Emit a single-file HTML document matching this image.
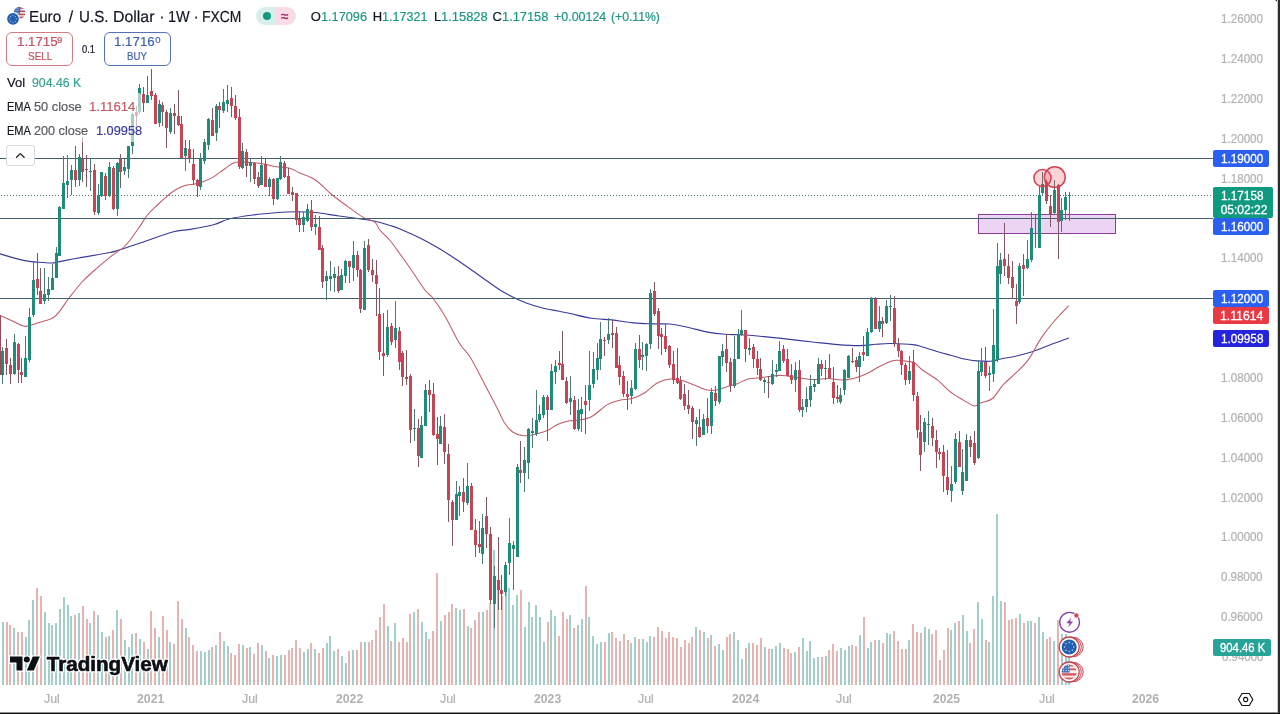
<!DOCTYPE html>
<html lang="en">
<head>
<meta charset="utf-8">
<title>Euro / U.S. Dollar · 1W · FXCM — TradingView</title>
<style>

html,body{margin:0;padding:0;background:#fff;}
body{width:1280px;height:714px;position:relative;overflow:hidden;font-family:"Liberation Sans", sans-serif;}
.chart{position:absolute;left:0;top:0;}
.t{position:absolute;white-space:nowrap;line-height:1;transform-origin:0 50%;transform:translateY(-50%);-webkit-text-stroke:0.2px currentColor;}
.box{position:absolute;box-sizing:border-box;}
.w{-webkit-text-stroke:0.3px currentColor;}
.b{-webkit-text-stroke:0;}
.g{text-rendering:geometricPrecision;}
.lg{position:absolute;background:rgba(255,255,255,0.6);border-radius:2px;}
.frame-r{position:absolute;right:0;top:0;width:2px;height:714px;background:#2b2b2b;}
.frame-r2{position:absolute;right:2px;top:0;width:1px;height:714px;background:#cfcfcf;}
.frame-b{position:absolute;left:0;bottom:0;width:1280px;height:1px;background:#161616;}
.frame-b2{position:absolute;left:0;bottom:1px;width:1280px;height:1px;background:#8a8a8a;}

</style>
</head>
<body>
<svg class="chart" width="1280" height="714" viewBox="0 0 1280 714" shape-rendering="crispEdges">
<g><rect x="2" y="622" width="2" height="63" fill="#a2cfca"/><rect x="6" y="622" width="2" height="63" fill="#e8b4b1"/><rect x="9" y="625" width="2" height="60" fill="#e8b4b1"/><rect x="13" y="628" width="2" height="57" fill="#a2cfca"/><rect x="17" y="632" width="2" height="53" fill="#e8b4b1"/><rect x="21" y="632" width="2" height="53" fill="#e8b4b1"/><rect x="25" y="637" width="2" height="48" fill="#a2cfca"/><rect x="28" y="620" width="2" height="65" fill="#a2cfca"/><rect x="32" y="600" width="2" height="85" fill="#a2cfca"/><rect x="36" y="588" width="2" height="97" fill="#e8b4b1"/><rect x="40" y="596" width="2" height="89" fill="#e8b4b1"/><rect x="44" y="612" width="2" height="73" fill="#a2cfca"/><rect x="48" y="623" width="2" height="62" fill="#a2cfca"/><rect x="51" y="625" width="2" height="60" fill="#a2cfca"/><rect x="55" y="623" width="2" height="62" fill="#a2cfca"/><rect x="59" y="609" width="2" height="76" fill="#a2cfca"/><rect x="63" y="597" width="2" height="88" fill="#a2cfca"/><rect x="67" y="605" width="2" height="80" fill="#a2cfca"/><rect x="70" y="616" width="2" height="69" fill="#a2cfca"/><rect x="74" y="615" width="2" height="70" fill="#e8b4b1"/><rect x="78" y="613" width="2" height="72" fill="#a2cfca"/><rect x="82" y="606" width="2" height="79" fill="#e8b4b1"/><rect x="86" y="619" width="2" height="66" fill="#e8b4b1"/><rect x="89" y="623" width="2" height="62" fill="#a2cfca"/><rect x="93" y="611" width="2" height="74" fill="#e8b4b1"/><rect x="97" y="615" width="2" height="70" fill="#a2cfca"/><rect x="101" y="632" width="2" height="53" fill="#a2cfca"/><rect x="105" y="637" width="2" height="48" fill="#e8b4b1"/><rect x="108" y="636" width="2" height="49" fill="#a2cfca"/><rect x="112" y="630" width="2" height="55" fill="#e8b4b1"/><rect x="116" y="610" width="2" height="75" fill="#a2cfca"/><rect x="120" y="619" width="2" height="66" fill="#e8b4b1"/><rect x="124" y="640" width="2" height="45" fill="#a2cfca"/><rect x="128" y="647" width="2" height="38" fill="#a2cfca"/><rect x="131" y="634" width="2" height="51" fill="#a2cfca"/><rect x="135" y="633" width="2" height="52" fill="#e8b4b1"/><rect x="139" y="639" width="2" height="46" fill="#a2cfca"/><rect x="143" y="642" width="2" height="43" fill="#e8b4b1"/><rect x="147" y="649" width="2" height="36" fill="#a2cfca"/><rect x="150" y="611" width="2" height="74" fill="#e8b4b1"/><rect x="154" y="628" width="2" height="57" fill="#e8b4b1"/><rect x="158" y="637" width="2" height="48" fill="#a2cfca"/><rect x="162" y="616" width="2" height="69" fill="#e8b4b1"/><rect x="166" y="630" width="2" height="55" fill="#e8b4b1"/><rect x="169" y="642" width="2" height="43" fill="#a2cfca"/><rect x="173" y="644" width="2" height="41" fill="#e8b4b1"/><rect x="177" y="601" width="2" height="84" fill="#e8b4b1"/><rect x="181" y="619" width="2" height="66" fill="#e8b4b1"/><rect x="185" y="628" width="2" height="57" fill="#a2cfca"/><rect x="188" y="637" width="2" height="48" fill="#e8b4b1"/><rect x="192" y="645" width="2" height="40" fill="#e8b4b1"/><rect x="196" y="651" width="2" height="34" fill="#e8b4b1"/><rect x="200" y="651" width="2" height="34" fill="#a2cfca"/><rect x="204" y="652" width="2" height="33" fill="#a2cfca"/><rect x="208" y="650" width="2" height="35" fill="#a2cfca"/><rect x="211" y="647" width="2" height="38" fill="#e8b4b1"/><rect x="215" y="645" width="2" height="40" fill="#a2cfca"/><rect x="219" y="632" width="2" height="53" fill="#e8b4b1"/><rect x="223" y="641" width="2" height="44" fill="#a2cfca"/><rect x="227" y="646" width="2" height="39" fill="#a2cfca"/><rect x="230" y="653" width="2" height="32" fill="#e8b4b1"/><rect x="234" y="655" width="2" height="30" fill="#e8b4b1"/><rect x="238" y="644" width="2" height="41" fill="#e8b4b1"/><rect x="242" y="645" width="2" height="40" fill="#a2cfca"/><rect x="246" y="648" width="2" height="37" fill="#e8b4b1"/><rect x="249" y="647" width="2" height="38" fill="#a2cfca"/><rect x="253" y="654" width="2" height="31" fill="#e8b4b1"/><rect x="257" y="643" width="2" height="42" fill="#e8b4b1"/><rect x="261" y="645" width="2" height="40" fill="#a2cfca"/><rect x="265" y="651" width="2" height="34" fill="#e8b4b1"/><rect x="268" y="658" width="2" height="27" fill="#a2cfca"/><rect x="272" y="655" width="2" height="30" fill="#e8b4b1"/><rect x="276" y="656" width="2" height="29" fill="#a2cfca"/><rect x="280" y="655" width="2" height="30" fill="#a2cfca"/><rect x="284" y="655" width="2" height="30" fill="#e8b4b1"/><rect x="288" y="650" width="2" height="35" fill="#e8b4b1"/><rect x="291" y="648" width="2" height="37" fill="#e8b4b1"/><rect x="295" y="640" width="2" height="45" fill="#e8b4b1"/><rect x="299" y="648" width="2" height="37" fill="#e8b4b1"/><rect x="303" y="652" width="2" height="33" fill="#a2cfca"/><rect x="307" y="649" width="2" height="36" fill="#a2cfca"/><rect x="310" y="643" width="2" height="42" fill="#e8b4b1"/><rect x="314" y="649" width="2" height="36" fill="#a2cfca"/><rect x="318" y="653" width="2" height="32" fill="#e8b4b1"/><rect x="322" y="648" width="2" height="37" fill="#e8b4b1"/><rect x="326" y="643" width="2" height="42" fill="#a2cfca"/><rect x="329" y="636" width="2" height="49" fill="#a2cfca"/><rect x="333" y="651" width="2" height="34" fill="#a2cfca"/><rect x="337" y="649" width="2" height="36" fill="#e8b4b1"/><rect x="341" y="656" width="2" height="29" fill="#a2cfca"/><rect x="345" y="663" width="2" height="22" fill="#a2cfca"/><rect x="348" y="651" width="2" height="34" fill="#e8b4b1"/><rect x="352" y="650" width="2" height="35" fill="#a2cfca"/><rect x="356" y="650" width="2" height="35" fill="#e8b4b1"/><rect x="360" y="642" width="2" height="43" fill="#e8b4b1"/><rect x="364" y="642" width="2" height="43" fill="#a2cfca"/><rect x="368" y="642" width="2" height="43" fill="#e8b4b1"/><rect x="371" y="640" width="2" height="45" fill="#e8b4b1"/><rect x="375" y="630" width="2" height="55" fill="#e8b4b1"/><rect x="379" y="617" width="2" height="68" fill="#e8b4b1"/><rect x="383" y="604" width="2" height="81" fill="#e8b4b1"/><rect x="387" y="626" width="2" height="59" fill="#a2cfca"/><rect x="390" y="641" width="2" height="44" fill="#e8b4b1"/><rect x="394" y="623" width="2" height="62" fill="#a2cfca"/><rect x="398" y="642" width="2" height="43" fill="#e8b4b1"/><rect x="402" y="638" width="2" height="47" fill="#e8b4b1"/><rect x="406" y="642" width="2" height="43" fill="#e8b4b1"/><rect x="409" y="614" width="2" height="71" fill="#e8b4b1"/><rect x="413" y="612" width="2" height="73" fill="#a2cfca"/><rect x="417" y="609" width="2" height="76" fill="#e8b4b1"/><rect x="421" y="622" width="2" height="63" fill="#a2cfca"/><rect x="425" y="632" width="2" height="53" fill="#a2cfca"/><rect x="428" y="639" width="2" height="46" fill="#e8b4b1"/><rect x="432" y="631" width="2" height="54" fill="#e8b4b1"/><rect x="436" y="573" width="2" height="112" fill="#e8b4b1"/><rect x="440" y="621" width="2" height="64" fill="#a2cfca"/><rect x="444" y="615" width="2" height="70" fill="#e8b4b1"/><rect x="448" y="612" width="2" height="73" fill="#e8b4b1"/><rect x="451" y="604" width="2" height="81" fill="#e8b4b1"/><rect x="455" y="608" width="2" height="77" fill="#a2cfca"/><rect x="459" y="610" width="2" height="75" fill="#a2cfca"/><rect x="463" y="609" width="2" height="76" fill="#e8b4b1"/><rect x="467" y="626" width="2" height="59" fill="#a2cfca"/><rect x="470" y="628" width="2" height="57" fill="#e8b4b1"/><rect x="474" y="620" width="2" height="65" fill="#e8b4b1"/><rect x="478" y="612" width="2" height="73" fill="#e8b4b1"/><rect x="482" y="612" width="2" height="73" fill="#a2cfca"/><rect x="486" y="610" width="2" height="75" fill="#e8b4b1"/><rect x="489" y="603" width="2" height="82" fill="#e8b4b1"/><rect x="493" y="550" width="2" height="135" fill="#a2cfca"/><rect x="497" y="590" width="2" height="95" fill="#e8b4b1"/><rect x="501" y="596" width="2" height="89" fill="#e8b4b1"/><rect x="505" y="592" width="2" height="93" fill="#a2cfca"/><rect x="508" y="588" width="2" height="97" fill="#a2cfca"/><rect x="512" y="605" width="2" height="80" fill="#a2cfca"/><rect x="516" y="595" width="2" height="90" fill="#a2cfca"/><rect x="520" y="590" width="2" height="95" fill="#e8b4b1"/><rect x="524" y="627" width="2" height="58" fill="#a2cfca"/><rect x="528" y="602" width="2" height="83" fill="#a2cfca"/><rect x="531" y="617" width="2" height="68" fill="#a2cfca"/><rect x="535" y="605" width="2" height="80" fill="#a2cfca"/><rect x="539" y="617" width="2" height="68" fill="#a2cfca"/><rect x="543" y="642" width="2" height="43" fill="#a2cfca"/><rect x="547" y="622" width="2" height="63" fill="#e8b4b1"/><rect x="550" y="610" width="2" height="75" fill="#a2cfca"/><rect x="554" y="616" width="2" height="69" fill="#a2cfca"/><rect x="558" y="636" width="2" height="49" fill="#e8b4b1"/><rect x="562" y="612" width="2" height="73" fill="#e8b4b1"/><rect x="566" y="619" width="2" height="66" fill="#e8b4b1"/><rect x="569" y="615" width="2" height="70" fill="#a2cfca"/><rect x="573" y="628" width="2" height="57" fill="#e8b4b1"/><rect x="577" y="625" width="2" height="60" fill="#a2cfca"/><rect x="581" y="619" width="2" height="66" fill="#a2cfca"/><rect x="585" y="586" width="2" height="99" fill="#e8b4b1"/><rect x="588" y="617" width="2" height="68" fill="#a2cfca"/><rect x="592" y="636" width="2" height="49" fill="#a2cfca"/><rect x="596" y="644" width="2" height="41" fill="#a2cfca"/><rect x="600" y="642" width="2" height="43" fill="#a2cfca"/><rect x="604" y="642" width="2" height="43" fill="#e8b4b1"/><rect x="608" y="633" width="2" height="52" fill="#a2cfca"/><rect x="611" y="632" width="2" height="53" fill="#e8b4b1"/><rect x="615" y="638" width="2" height="47" fill="#e8b4b1"/><rect x="619" y="641" width="2" height="44" fill="#e8b4b1"/><rect x="623" y="634" width="2" height="51" fill="#e8b4b1"/><rect x="627" y="640" width="2" height="45" fill="#e8b4b1"/><rect x="630" y="643" width="2" height="42" fill="#a2cfca"/><rect x="634" y="637" width="2" height="48" fill="#a2cfca"/><rect x="638" y="639" width="2" height="46" fill="#e8b4b1"/><rect x="642" y="639" width="2" height="46" fill="#a2cfca"/><rect x="646" y="642" width="2" height="43" fill="#a2cfca"/><rect x="649" y="636" width="2" height="49" fill="#a2cfca"/><rect x="653" y="637" width="2" height="48" fill="#e8b4b1"/><rect x="657" y="627" width="2" height="58" fill="#e8b4b1"/><rect x="661" y="631" width="2" height="54" fill="#e8b4b1"/><rect x="665" y="638" width="2" height="47" fill="#e8b4b1"/><rect x="668" y="632" width="2" height="53" fill="#e8b4b1"/><rect x="672" y="637" width="2" height="48" fill="#e8b4b1"/><rect x="676" y="638" width="2" height="47" fill="#e8b4b1"/><rect x="680" y="647" width="2" height="38" fill="#e8b4b1"/><rect x="684" y="640" width="2" height="45" fill="#e8b4b1"/><rect x="688" y="643" width="2" height="42" fill="#e8b4b1"/><rect x="691" y="637" width="2" height="48" fill="#e8b4b1"/><rect x="695" y="627" width="2" height="58" fill="#a2cfca"/><rect x="699" y="630" width="2" height="55" fill="#e8b4b1"/><rect x="703" y="632" width="2" height="53" fill="#a2cfca"/><rect x="707" y="638" width="2" height="47" fill="#e8b4b1"/><rect x="710" y="635" width="2" height="50" fill="#a2cfca"/><rect x="714" y="646" width="2" height="39" fill="#e8b4b1"/><rect x="718" y="644" width="2" height="41" fill="#a2cfca"/><rect x="722" y="650" width="2" height="35" fill="#a2cfca"/><rect x="726" y="637" width="2" height="48" fill="#e8b4b1"/><rect x="729" y="634" width="2" height="51" fill="#e8b4b1"/><rect x="733" y="632" width="2" height="53" fill="#a2cfca"/><rect x="737" y="640" width="2" height="45" fill="#a2cfca"/><rect x="741" y="659" width="2" height="26" fill="#a2cfca"/><rect x="745" y="648" width="2" height="37" fill="#e8b4b1"/><rect x="748" y="643" width="2" height="42" fill="#a2cfca"/><rect x="752" y="643" width="2" height="42" fill="#e8b4b1"/><rect x="756" y="645" width="2" height="40" fill="#e8b4b1"/><rect x="760" y="638" width="2" height="47" fill="#e8b4b1"/><rect x="764" y="647" width="2" height="38" fill="#a2cfca"/><rect x="768" y="649" width="2" height="36" fill="#e8b4b1"/><rect x="771" y="649" width="2" height="36" fill="#a2cfca"/><rect x="775" y="646" width="2" height="39" fill="#a2cfca"/><rect x="779" y="643" width="2" height="42" fill="#a2cfca"/><rect x="783" y="648" width="2" height="37" fill="#e8b4b1"/><rect x="787" y="649" width="2" height="36" fill="#e8b4b1"/><rect x="790" y="653" width="2" height="32" fill="#e8b4b1"/><rect x="794" y="652" width="2" height="33" fill="#a2cfca"/><rect x="798" y="647" width="2" height="38" fill="#e8b4b1"/><rect x="802" y="638" width="2" height="47" fill="#a2cfca"/><rect x="806" y="651" width="2" height="34" fill="#a2cfca"/><rect x="809" y="641" width="2" height="44" fill="#a2cfca"/><rect x="813" y="658" width="2" height="27" fill="#a2cfca"/><rect x="817" y="657" width="2" height="28" fill="#a2cfca"/><rect x="821" y="657" width="2" height="28" fill="#e8b4b1"/><rect x="825" y="656" width="2" height="29" fill="#a2cfca"/><rect x="828" y="650" width="2" height="35" fill="#e8b4b1"/><rect x="832" y="644" width="2" height="41" fill="#e8b4b1"/><rect x="836" y="651" width="2" height="34" fill="#e8b4b1"/><rect x="840" y="648" width="2" height="37" fill="#a2cfca"/><rect x="844" y="650" width="2" height="35" fill="#a2cfca"/><rect x="848" y="646" width="2" height="39" fill="#a2cfca"/><rect x="851" y="645" width="2" height="40" fill="#e8b4b1"/><rect x="855" y="646" width="2" height="39" fill="#e8b4b1"/><rect x="859" y="635" width="2" height="50" fill="#a2cfca"/><rect x="863" y="617" width="2" height="68" fill="#e8b4b1"/><rect x="867" y="648" width="2" height="37" fill="#a2cfca"/><rect x="870" y="642" width="2" height="43" fill="#a2cfca"/><rect x="874" y="640" width="2" height="45" fill="#e8b4b1"/><rect x="878" y="640" width="2" height="45" fill="#a2cfca"/><rect x="882" y="643" width="2" height="42" fill="#e8b4b1"/><rect x="886" y="633" width="2" height="52" fill="#a2cfca"/><rect x="889" y="634" width="2" height="51" fill="#a2cfca"/><rect x="893" y="631" width="2" height="54" fill="#e8b4b1"/><rect x="897" y="641" width="2" height="44" fill="#e8b4b1"/><rect x="901" y="649" width="2" height="36" fill="#e8b4b1"/><rect x="905" y="649" width="2" height="36" fill="#e8b4b1"/><rect x="908" y="640" width="2" height="45" fill="#a2cfca"/><rect x="912" y="624" width="2" height="61" fill="#e8b4b1"/><rect x="916" y="632" width="2" height="53" fill="#e8b4b1"/><rect x="920" y="633" width="2" height="52" fill="#e8b4b1"/><rect x="924" y="627" width="2" height="58" fill="#a2cfca"/><rect x="928" y="629" width="2" height="56" fill="#a2cfca"/><rect x="931" y="634" width="2" height="51" fill="#e8b4b1"/><rect x="935" y="630" width="2" height="55" fill="#e8b4b1"/><rect x="939" y="660" width="2" height="25" fill="#e8b4b1"/><rect x="943" y="650" width="2" height="35" fill="#e8b4b1"/><rect x="947" y="628" width="2" height="57" fill="#e8b4b1"/><rect x="950" y="630" width="2" height="55" fill="#a2cfca"/><rect x="954" y="623" width="2" height="62" fill="#a2cfca"/><rect x="958" y="621" width="2" height="64" fill="#e8b4b1"/><rect x="962" y="615" width="2" height="70" fill="#a2cfca"/><rect x="966" y="631" width="2" height="54" fill="#a2cfca"/><rect x="969" y="643" width="2" height="42" fill="#e8b4b1"/><rect x="973" y="629" width="2" height="56" fill="#e8b4b1"/><rect x="977" y="602" width="2" height="83" fill="#a2cfca"/><rect x="981" y="619" width="2" height="66" fill="#a2cfca"/><rect x="985" y="640" width="2" height="45" fill="#e8b4b1"/><rect x="988" y="642" width="2" height="43" fill="#a2cfca"/><rect x="992" y="596" width="2" height="89" fill="#a2cfca"/><rect x="996" y="514" width="2" height="171" fill="#a2cfca"/><rect x="1000" y="601" width="2" height="84" fill="#a2cfca"/><rect x="1004" y="602" width="2" height="83" fill="#e8b4b1"/><rect x="1008" y="620" width="2" height="65" fill="#e8b4b1"/><rect x="1011" y="619" width="2" height="66" fill="#e8b4b1"/><rect x="1015" y="618" width="2" height="67" fill="#e8b4b1"/><rect x="1019" y="614" width="2" height="71" fill="#a2cfca"/><rect x="1023" y="623" width="2" height="62" fill="#e8b4b1"/><rect x="1027" y="621" width="2" height="64" fill="#a2cfca"/><rect x="1030" y="621" width="2" height="64" fill="#a2cfca"/><rect x="1034" y="623" width="2" height="62" fill="#e8b4b1"/><rect x="1038" y="617" width="2" height="68" fill="#a2cfca"/><rect x="1042" y="632" width="2" height="53" fill="#a2cfca"/><rect x="1046" y="639" width="2" height="46" fill="#e8b4b1"/><rect x="1049" y="637" width="2" height="48" fill="#e8b4b1"/><rect x="1053" y="641" width="2" height="44" fill="#a2cfca"/><rect x="1057" y="620" width="2" height="65" fill="#e8b4b1"/><rect x="1061" y="634" width="2" height="51" fill="#a2cfca"/><rect x="1065" y="634" width="2" height="51" fill="#a2cfca"/><rect x="1068" y="648" width="2" height="37" fill="#a2cfca"/></g>
<path d="M-2.0,253.5 C-1.7,253.6 -4.2,252.7 0.0,253.8 C4.2,255.0 17.0,259.0 23.5,260.4 C30.0,261.8 34.3,261.9 39.0,262.3 C43.7,262.7 48.4,263.1 51.8,263.0 C55.2,262.9 55.2,262.4 59.6,261.6 C64.0,260.8 70.0,259.5 78.4,258.0 C86.8,256.5 103.0,253.8 109.8,252.5 C116.6,251.2 113.8,251.6 119.0,250.0 C124.2,248.4 132.1,245.8 141.0,242.8 C149.9,239.8 164.3,234.2 172.5,232.0 C180.7,229.8 183.2,230.6 190.0,229.4 C196.8,228.2 207.0,226.4 213.5,224.7 C220.0,223.0 222.5,220.6 229.0,219.0 C235.5,217.4 244.6,216.1 252.7,215.0 C260.8,213.9 270.5,213.1 277.8,212.5 C285.1,211.9 290.4,211.7 296.7,211.7 C303.0,211.7 308.4,211.8 315.5,212.5 C322.6,213.2 331.2,214.9 339.0,216.0 C346.8,217.1 356.5,218.3 362.5,219.2 C368.5,220.1 370.4,220.2 375.0,221.3 C379.6,222.4 385.8,224.2 390.0,225.5 C394.2,226.8 395.0,226.9 400.0,229.0 C405.0,231.1 413.3,234.7 420.0,238.0 C426.7,241.3 433.3,245.0 440.0,249.0 C446.7,253.0 453.3,257.5 460.0,262.0 C466.7,266.5 473.3,271.3 480.0,276.0 C486.7,280.7 494.3,286.4 500.0,290.0 C505.7,293.6 509.8,295.6 514.3,297.8 C518.8,300.0 522.2,301.6 526.9,303.3 C531.6,305.0 537.3,306.7 542.5,308.0 C547.7,309.3 553.4,310.1 558.0,311.0 C562.6,311.9 564.4,312.3 570.0,313.5 C575.6,314.7 584.4,317.2 591.4,318.3 C598.4,319.4 605.3,319.2 611.8,319.9 C618.3,320.6 624.6,321.9 630.6,322.5 C636.6,323.1 641.3,323.6 647.8,323.8 C654.3,324.1 663.5,323.5 669.8,324.0 C676.1,324.5 679.0,325.4 685.5,326.8 C692.0,328.2 702.5,331.1 709.0,332.4 C715.5,333.6 719.5,333.9 724.7,334.3 C729.9,334.7 734.5,334.5 740.4,334.8 C746.3,335.1 753.2,335.6 760.0,336.2 C766.8,336.8 772.6,337.4 781.4,338.4 C790.2,339.4 803.3,341.0 812.7,342.0 C822.1,343.0 829.9,344.0 837.8,344.6 C845.6,345.2 853.5,345.7 859.8,345.6 C866.1,345.6 870.3,344.7 875.5,344.3 C880.7,343.9 884.8,343.4 891.0,343.5 C897.2,343.6 907.8,344.0 913.0,344.6 C918.2,345.2 918.3,345.8 922.5,347.0 C926.7,348.2 933.4,350.5 938.0,351.8 C942.6,353.1 945.4,353.8 950.0,355.0 C954.6,356.2 961.2,358.3 965.7,359.3 C970.2,360.3 972.5,360.6 976.7,360.9 C980.9,361.2 986.6,361.5 990.8,361.2 C995.0,360.9 997.3,359.7 1001.8,358.8 C1006.2,357.9 1012.3,356.9 1017.5,355.7 C1022.7,354.5 1027.5,353.3 1033.0,351.5 C1038.5,349.7 1044.4,346.9 1050.4,344.7 C1056.4,342.4 1065.8,339.1 1068.9,338.0" fill="none" stroke="#3a3a9c" stroke-width="1.15" shape-rendering="auto" stroke-linejoin="round"/>
<path d="M-2.0,315.0 C-1.7,315.1 -2.7,314.4 0.0,315.5 C2.7,316.6 10.1,320.1 14.0,321.8 C17.9,323.6 21.2,325.3 23.5,326.0 C25.8,326.7 25.4,326.6 28.0,326.0 C30.6,325.4 34.5,324.1 39.0,322.5 C43.5,320.9 50.0,320.4 55.0,316.3 C60.0,312.2 64.6,303.6 69.0,298.0 C73.4,292.4 77.7,286.8 81.6,282.5 C85.5,278.2 87.8,276.2 92.5,272.0 C97.2,267.8 104.3,261.7 109.8,257.3 C115.3,252.9 120.8,250.2 125.5,245.5 C130.2,240.8 134.3,234.1 138.0,229.0 C141.7,223.9 144.3,218.9 147.5,215.0 C150.7,211.1 153.8,208.5 156.9,205.5 C160.0,202.5 163.2,199.5 166.3,196.9 C169.4,194.3 172.6,191.7 175.7,189.8 C178.8,187.9 182.1,186.4 185.0,185.5 C187.9,184.6 190.1,184.9 193.0,184.3 C195.9,183.7 199.1,183.2 202.5,182.0 C205.9,180.8 209.8,179.1 213.5,176.9 C217.2,174.7 220.8,171.4 224.5,169.0 C228.2,166.6 230.8,163.4 235.5,162.3 C240.2,161.2 247.7,162.4 252.7,162.7 C257.7,163.0 261.4,163.6 265.3,164.3 C269.2,165.0 272.1,166.0 276.3,166.7 C280.5,167.4 286.5,167.4 290.4,168.5 C294.3,169.6 295.6,171.1 299.8,173.0 C304.0,174.9 310.3,176.5 315.5,180.0 C320.7,183.5 325.8,189.7 331.0,194.0 C336.2,198.3 341.6,202.1 346.9,205.9 C352.1,209.7 357.8,214.2 362.5,216.9 C367.2,219.7 372.1,220.2 375.0,222.4 C377.9,224.6 377.3,227.0 379.8,230.0 C382.3,233.0 386.6,236.5 390.0,240.5 C393.4,244.5 396.7,249.4 400.0,254.0 C403.3,258.6 405.9,262.0 410.0,268.0 C414.1,274.0 421.1,285.0 424.9,290.0 C428.7,295.0 429.3,293.4 432.7,297.8 C436.1,302.2 440.9,309.1 445.3,316.7 C449.8,324.3 455.2,336.5 459.4,343.3 C463.6,350.1 466.5,351.2 470.4,357.5 C474.3,363.8 479.1,373.6 483.0,381.0 C486.9,388.4 491.4,397.0 494.0,402.0 C496.6,407.0 496.8,407.4 498.6,411.0 C500.4,414.6 502.5,420.0 504.9,423.5 C507.2,427.0 509.6,429.9 512.7,432.0 C515.8,434.1 519.8,435.5 523.7,435.8 C527.6,436.1 532.4,434.9 536.3,434.0 C540.2,433.1 543.7,432.2 547.3,430.6 C550.9,429.0 554.2,425.9 558.0,424.3 C561.8,422.7 567.0,421.4 570.0,420.8 C573.0,420.2 572.1,421.3 575.7,420.6 C579.3,419.9 586.2,419.3 591.4,416.7 C596.6,414.1 602.3,407.6 607.0,404.9 C611.7,402.1 615.4,401.2 619.6,400.2 C623.8,399.1 627.8,399.9 632.0,398.6 C636.2,397.4 640.5,395.3 644.7,392.7 C648.9,390.1 653.1,385.3 657.3,383.0 C661.5,380.7 665.6,379.4 669.8,379.0 C674.0,378.6 678.2,379.6 682.4,380.6 C686.6,381.7 690.7,383.7 694.9,385.3 C699.1,386.9 703.8,389.2 707.5,390.0 C711.2,390.8 713.8,390.5 716.9,390.0 C720.0,389.5 722.9,387.9 726.3,386.9 C729.7,385.8 733.6,385.0 737.3,383.7 C740.9,382.4 744.4,380.0 748.2,379.0 C752.0,378.0 757.1,378.0 760.0,377.7 C762.9,377.4 762.1,377.4 765.7,377.0 C769.3,376.6 776.2,375.3 781.4,375.4 C786.6,375.5 791.8,376.9 797.0,377.6 C802.2,378.3 807.5,379.5 812.7,379.6 C817.9,379.8 823.7,378.4 828.4,378.5 C833.1,378.6 836.8,380.0 841.0,380.0 C845.2,380.0 849.3,379.5 853.5,378.5 C857.7,377.5 861.8,375.9 866.0,374.0 C870.2,372.1 874.4,369.1 878.6,367.0 C882.8,364.9 887.9,362.4 891.0,361.3 C894.1,360.2 894.9,360.3 897.5,360.3 C900.1,360.3 904.0,360.9 906.9,361.3 C909.8,361.8 912.1,361.6 914.7,363.0 C917.3,364.4 918.6,367.1 922.5,370.0 C926.4,372.9 933.4,376.8 938.0,380.4 C942.6,384.0 945.9,388.4 950.0,391.6 C954.1,394.8 958.5,397.2 962.5,399.6 C966.5,402.0 971.1,405.4 974.3,405.9 C977.4,406.4 978.4,403.9 981.4,402.7 C984.4,401.5 988.8,401.5 992.4,398.5 C996.0,395.5 999.4,389.0 1003.3,384.7 C1007.2,380.4 1011.7,377.1 1015.9,372.9 C1020.1,368.7 1024.2,365.4 1028.4,359.6 C1032.6,353.9 1036.8,344.7 1041.0,338.4 C1045.2,332.1 1048.8,327.5 1053.5,322.0 C1058.2,316.5 1066.3,308.2 1068.9,305.5" fill="none" stroke="#bd5c68" stroke-width="1.05" shape-rendering="auto" stroke-linejoin="round"/>
<rect x="978.5" y="214.5" width="137" height="19" fill="#ebd4f4" stroke="#8b3f98" stroke-width="1"/>
<rect x="979" y="218" width="136" height="1" fill="#5b5690"/>
<rect x="0" y="158" width="1213" height="1" fill="#43606f"/>
<rect x="0" y="218" width="1213" height="1" fill="#43606f"/>
<rect x="0" y="298" width="1213" height="1" fill="#43606f"/>
<line x1="0.5" y1="195.5" x2="1213" y2="195.5" stroke="#3f6f6a" stroke-width="1" stroke-dasharray="1 2"/>
<g><rect x="-1" y="314" width="1" height="62" fill="#85555f"/><rect x="-2" y="315" width="3" height="60" fill="#9c4a58"/><rect x="2" y="347" width="1" height="37" fill="#4a7c73"/><rect x="1" y="351" width="3" height="24" fill="#1f8b79"/><rect x="6" y="339" width="1" height="36" fill="#85555f"/><rect x="5" y="348" width="3" height="16" fill="#c54455"/><rect x="10" y="358" width="1" height="26" fill="#85555f"/><rect x="9" y="365" width="3" height="9" fill="#c54455"/><rect x="14" y="334" width="1" height="41" fill="#4a7c73"/><rect x="13" y="342" width="3" height="32" fill="#1f8b79"/><rect x="18" y="343" width="1" height="40" fill="#85555f"/><rect x="17" y="344" width="3" height="26" fill="#c54455"/><rect x="21" y="358" width="1" height="25" fill="#85555f"/><rect x="20" y="372" width="3" height="3" fill="#c54455"/><rect x="25" y="336" width="1" height="41" fill="#4a7c73"/><rect x="24" y="358" width="3" height="19" fill="#1f8b79"/><rect x="29" y="308" width="1" height="54" fill="#4a7c73"/><rect x="28" y="317" width="3" height="43" fill="#1f8b79"/><rect x="33" y="262" width="1" height="55" fill="#4a7c73"/><rect x="32" y="280" width="3" height="35" fill="#1f8b79"/><rect x="37" y="253" width="1" height="42" fill="#85555f"/><rect x="36" y="279" width="3" height="9" fill="#c54455"/><rect x="40" y="268" width="1" height="36" fill="#85555f"/><rect x="39" y="291" width="3" height="13" fill="#c54455"/><rect x="44" y="268" width="1" height="36" fill="#4a7c73"/><rect x="43" y="294" width="3" height="7" fill="#1f8b79"/><rect x="48" y="277" width="1" height="24" fill="#4a7c73"/><rect x="47" y="289" width="3" height="6" fill="#1f8b79"/><rect x="52" y="264" width="1" height="26" fill="#4a7c73"/><rect x="51" y="278" width="3" height="12" fill="#1f8b79"/><rect x="56" y="247" width="1" height="31" fill="#4a7c73"/><rect x="55" y="253" width="3" height="25" fill="#1f8b79"/><rect x="59" y="206" width="1" height="50" fill="#4a7c73"/><rect x="58" y="207" width="3" height="49" fill="#1f8b79"/><rect x="63" y="156" width="1" height="53" fill="#4a7c73"/><rect x="62" y="183" width="3" height="26" fill="#1f8b79"/><rect x="67" y="155" width="1" height="43" fill="#4a7c73"/><rect x="66" y="181" width="3" height="4" fill="#1f8b79"/><rect x="71" y="165" width="1" height="30" fill="#4a7c73"/><rect x="70" y="170" width="3" height="10" fill="#1f8b79"/><rect x="75" y="146" width="1" height="41" fill="#85555f"/><rect x="74" y="170" width="3" height="10" fill="#c54455"/><rect x="79" y="154" width="1" height="32" fill="#4a7c73"/><rect x="78" y="157" width="3" height="23" fill="#1f8b79"/><rect x="82" y="137" width="1" height="45" fill="#85555f"/><rect x="81" y="159" width="3" height="13" fill="#c54455"/><rect x="86" y="155" width="1" height="32" fill="#85555f"/><rect x="85" y="169" width="3" height="1" fill="#c54455"/><rect x="90" y="158" width="1" height="33" fill="#4a7c73"/><rect x="89" y="171" width="3" height="1" fill="#1f8b79"/><rect x="94" y="164" width="1" height="51" fill="#85555f"/><rect x="93" y="170" width="3" height="42" fill="#c54455"/><rect x="98" y="184" width="1" height="31" fill="#4a7c73"/><rect x="97" y="195" width="3" height="18" fill="#1f8b79"/><rect x="101" y="172" width="1" height="25" fill="#4a7c73"/><rect x="100" y="172" width="3" height="24" fill="#1f8b79"/><rect x="105" y="173" width="1" height="27" fill="#85555f"/><rect x="104" y="176" width="3" height="20" fill="#c54455"/><rect x="109" y="162" width="1" height="35" fill="#4a7c73"/><rect x="108" y="167" width="3" height="29" fill="#1f8b79"/><rect x="113" y="166" width="1" height="44" fill="#85555f"/><rect x="112" y="168" width="3" height="41" fill="#c54455"/><rect x="117" y="162" width="1" height="54" fill="#4a7c73"/><rect x="116" y="163" width="3" height="46" fill="#1f8b79"/><rect x="120" y="154" width="1" height="34" fill="#85555f"/><rect x="119" y="159" width="3" height="13" fill="#c54455"/><rect x="124" y="159" width="1" height="16" fill="#4a7c73"/><rect x="123" y="167" width="3" height="4" fill="#1f8b79"/><rect x="128" y="146" width="1" height="32" fill="#4a7c73"/><rect x="127" y="146" width="3" height="23" fill="#1f8b79"/><rect x="132" y="113" width="1" height="41" fill="#4a7c73"/><rect x="131" y="114" width="3" height="32" fill="#1f8b79"/><rect x="136" y="106" width="1" height="20" fill="#85555f"/><rect x="135" y="112" width="3" height="4" fill="#c54455"/><rect x="139" y="84" width="1" height="30" fill="#4a7c73"/><rect x="138" y="88" width="3" height="24" fill="#1f8b79"/><rect x="143" y="87" width="1" height="25" fill="#85555f"/><rect x="142" y="94" width="3" height="9" fill="#c54455"/><rect x="147" y="76" width="1" height="27" fill="#4a7c73"/><rect x="146" y="95" width="3" height="8" fill="#1f8b79"/><rect x="151" y="69" width="1" height="31" fill="#85555f"/><rect x="150" y="91" width="3" height="5" fill="#c54455"/><rect x="155" y="93" width="1" height="31" fill="#85555f"/><rect x="154" y="95" width="3" height="29" fill="#c54455"/><rect x="159" y="100" width="1" height="27" fill="#4a7c73"/><rect x="158" y="104" width="3" height="19" fill="#1f8b79"/><rect x="162" y="102" width="1" height="24" fill="#85555f"/><rect x="161" y="105" width="3" height="7" fill="#c54455"/><rect x="166" y="110" width="1" height="38" fill="#85555f"/><rect x="165" y="112" width="3" height="16" fill="#c54455"/><rect x="170" y="108" width="1" height="26" fill="#4a7c73"/><rect x="169" y="113" width="3" height="19" fill="#1f8b79"/><rect x="174" y="104" width="1" height="30" fill="#85555f"/><rect x="173" y="113" width="3" height="3" fill="#c54455"/><rect x="178" y="90" width="1" height="36" fill="#85555f"/><rect x="177" y="116" width="3" height="9" fill="#c54455"/><rect x="181" y="116" width="1" height="42" fill="#85555f"/><rect x="180" y="124" width="3" height="34" fill="#c54455"/><rect x="185" y="140" width="1" height="31" fill="#4a7c73"/><rect x="184" y="148" width="3" height="8" fill="#1f8b79"/><rect x="189" y="140" width="1" height="23" fill="#85555f"/><rect x="188" y="149" width="3" height="9" fill="#c54455"/><rect x="193" y="149" width="1" height="36" fill="#85555f"/><rect x="192" y="164" width="3" height="16" fill="#c54455"/><rect x="197" y="179" width="1" height="18" fill="#85555f"/><rect x="196" y="180" width="3" height="6" fill="#c54455"/><rect x="200" y="153" width="1" height="37" fill="#4a7c73"/><rect x="199" y="159" width="3" height="28" fill="#1f8b79"/><rect x="204" y="139" width="1" height="25" fill="#4a7c73"/><rect x="203" y="142" width="3" height="19" fill="#1f8b79"/><rect x="208" y="118" width="1" height="32" fill="#4a7c73"/><rect x="207" y="119" width="3" height="26" fill="#1f8b79"/><rect x="212" y="108" width="1" height="28" fill="#85555f"/><rect x="211" y="120" width="3" height="16" fill="#c54455"/><rect x="216" y="104" width="1" height="37" fill="#4a7c73"/><rect x="215" y="106" width="3" height="27" fill="#1f8b79"/><rect x="219" y="102" width="1" height="26" fill="#85555f"/><rect x="218" y="106" width="3" height="4" fill="#c54455"/><rect x="223" y="89" width="1" height="24" fill="#4a7c73"/><rect x="222" y="102" width="3" height="9" fill="#1f8b79"/><rect x="227" y="85" width="1" height="27" fill="#4a7c73"/><rect x="226" y="100" width="3" height="4" fill="#1f8b79"/><rect x="231" y="87" width="1" height="30" fill="#85555f"/><rect x="230" y="98" width="3" height="8" fill="#c54455"/><rect x="235" y="95" width="1" height="25" fill="#85555f"/><rect x="234" y="106" width="3" height="12" fill="#c54455"/><rect x="239" y="109" width="1" height="60" fill="#85555f"/><rect x="238" y="117" width="3" height="50" fill="#c54455"/><rect x="242" y="143" width="1" height="26" fill="#4a7c73"/><rect x="241" y="151" width="3" height="17" fill="#1f8b79"/><rect x="246" y="149" width="1" height="28" fill="#85555f"/><rect x="245" y="152" width="3" height="14" fill="#c54455"/><rect x="250" y="158" width="1" height="24" fill="#4a7c73"/><rect x="249" y="162" width="3" height="4" fill="#1f8b79"/><rect x="254" y="162" width="1" height="22" fill="#85555f"/><rect x="253" y="163" width="3" height="16" fill="#c54455"/><rect x="258" y="172" width="1" height="16" fill="#85555f"/><rect x="257" y="177" width="3" height="9" fill="#c54455"/><rect x="261" y="156" width="1" height="29" fill="#4a7c73"/><rect x="260" y="165" width="3" height="20" fill="#1f8b79"/><rect x="265" y="159" width="1" height="28" fill="#85555f"/><rect x="264" y="164" width="3" height="23" fill="#c54455"/><rect x="269" y="177" width="1" height="19" fill="#4a7c73"/><rect x="268" y="179" width="3" height="8" fill="#1f8b79"/><rect x="273" y="178" width="1" height="27" fill="#85555f"/><rect x="272" y="179" width="3" height="20" fill="#c54455"/><rect x="277" y="178" width="1" height="22" fill="#4a7c73"/><rect x="276" y="178" width="3" height="21" fill="#1f8b79"/><rect x="280" y="156" width="1" height="24" fill="#4a7c73"/><rect x="279" y="162" width="3" height="17" fill="#1f8b79"/><rect x="284" y="161" width="1" height="17" fill="#85555f"/><rect x="283" y="163" width="3" height="14" fill="#c54455"/><rect x="288" y="168" width="1" height="26" fill="#85555f"/><rect x="287" y="176" width="3" height="18" fill="#c54455"/><rect x="292" y="187" width="1" height="14" fill="#85555f"/><rect x="291" y="192" width="3" height="3" fill="#c54455"/><rect x="296" y="193" width="1" height="32" fill="#85555f"/><rect x="295" y="193" width="3" height="27" fill="#c54455"/><rect x="299" y="211" width="1" height="21" fill="#85555f"/><rect x="298" y="219" width="3" height="6" fill="#c54455"/><rect x="303" y="212" width="1" height="20" fill="#4a7c73"/><rect x="302" y="217" width="3" height="8" fill="#1f8b79"/><rect x="307" y="204" width="1" height="18" fill="#4a7c73"/><rect x="306" y="209" width="3" height="12" fill="#1f8b79"/><rect x="311" y="200" width="1" height="31" fill="#85555f"/><rect x="310" y="210" width="3" height="17" fill="#c54455"/><rect x="315" y="215" width="1" height="20" fill="#4a7c73"/><rect x="314" y="224" width="3" height="3" fill="#1f8b79"/><rect x="319" y="216" width="1" height="34" fill="#85555f"/><rect x="318" y="227" width="3" height="23" fill="#c54455"/><rect x="322" y="245" width="1" height="43" fill="#85555f"/><rect x="321" y="248" width="3" height="34" fill="#c54455"/><rect x="326" y="271" width="1" height="29" fill="#4a7c73"/><rect x="325" y="276" width="3" height="5" fill="#1f8b79"/><rect x="330" y="261" width="1" height="30" fill="#4a7c73"/><rect x="329" y="276" width="3" height="3" fill="#1f8b79"/><rect x="334" y="267" width="1" height="25" fill="#4a7c73"/><rect x="333" y="274" width="3" height="4" fill="#1f8b79"/><rect x="338" y="266" width="1" height="27" fill="#85555f"/><rect x="337" y="276" width="3" height="15" fill="#c54455"/><rect x="341" y="269" width="1" height="21" fill="#4a7c73"/><rect x="340" y="275" width="3" height="15" fill="#1f8b79"/><rect x="345" y="260" width="1" height="23" fill="#4a7c73"/><rect x="344" y="261" width="3" height="15" fill="#1f8b79"/><rect x="349" y="261" width="1" height="22" fill="#85555f"/><rect x="348" y="261" width="3" height="6" fill="#c54455"/><rect x="353" y="241" width="1" height="40" fill="#4a7c73"/><rect x="352" y="255" width="3" height="13" fill="#1f8b79"/><rect x="357" y="251" width="1" height="26" fill="#85555f"/><rect x="356" y="255" width="3" height="15" fill="#c54455"/><rect x="360" y="269" width="1" height="44" fill="#85555f"/><rect x="359" y="270" width="3" height="39" fill="#c54455"/><rect x="364" y="241" width="1" height="69" fill="#4a7c73"/><rect x="363" y="248" width="3" height="62" fill="#1f8b79"/><rect x="368" y="239" width="1" height="33" fill="#85555f"/><rect x="367" y="245" width="3" height="25" fill="#c54455"/><rect x="372" y="259" width="1" height="23" fill="#85555f"/><rect x="371" y="270" width="3" height="5" fill="#c54455"/><rect x="376" y="260" width="1" height="56" fill="#85555f"/><rect x="375" y="275" width="3" height="9" fill="#c54455"/><rect x="379" y="288" width="1" height="72" fill="#85555f"/><rect x="378" y="314" width="3" height="38" fill="#c54455"/><rect x="383" y="313" width="1" height="63" fill="#85555f"/><rect x="382" y="353" width="3" height="3" fill="#c54455"/><rect x="387" y="310" width="1" height="47" fill="#4a7c73"/><rect x="386" y="327" width="3" height="28" fill="#1f8b79"/><rect x="391" y="323" width="1" height="22" fill="#85555f"/><rect x="390" y="326" width="3" height="16" fill="#c54455"/><rect x="395" y="301" width="1" height="47" fill="#4a7c73"/><rect x="394" y="328" width="3" height="12" fill="#1f8b79"/><rect x="399" y="327" width="1" height="43" fill="#85555f"/><rect x="398" y="331" width="3" height="31" fill="#c54455"/><rect x="402" y="351" width="1" height="35" fill="#85555f"/><rect x="401" y="353" width="3" height="24" fill="#c54455"/><rect x="406" y="350" width="1" height="35" fill="#85555f"/><rect x="405" y="377" width="3" height="2" fill="#c54455"/><rect x="410" y="374" width="1" height="69" fill="#85555f"/><rect x="409" y="376" width="3" height="54" fill="#c54455"/><rect x="414" y="409" width="1" height="32" fill="#4a7c73"/><rect x="413" y="428" width="3" height="1" fill="#1f8b79"/><rect x="418" y="419" width="1" height="48" fill="#85555f"/><rect x="417" y="428" width="3" height="28" fill="#c54455"/><rect x="421" y="416" width="1" height="42" fill="#4a7c73"/><rect x="420" y="425" width="3" height="33" fill="#1f8b79"/><rect x="425" y="384" width="1" height="42" fill="#4a7c73"/><rect x="424" y="390" width="3" height="36" fill="#1f8b79"/><rect x="429" y="380" width="1" height="32" fill="#85555f"/><rect x="428" y="390" width="3" height="5" fill="#c54455"/><rect x="433" y="383" width="1" height="53" fill="#85555f"/><rect x="432" y="394" width="3" height="41" fill="#c54455"/><rect x="437" y="417" width="1" height="48" fill="#85555f"/><rect x="436" y="434" width="3" height="5" fill="#c54455"/><rect x="440" y="416" width="1" height="28" fill="#4a7c73"/><rect x="439" y="426" width="3" height="18" fill="#1f8b79"/><rect x="444" y="414" width="1" height="50" fill="#85555f"/><rect x="443" y="427" width="3" height="25" fill="#c54455"/><rect x="448" y="444" width="1" height="78" fill="#85555f"/><rect x="447" y="454" width="3" height="46" fill="#c54455"/><rect x="452" y="500" width="1" height="46" fill="#85555f"/><rect x="451" y="502" width="3" height="18" fill="#c54455"/><rect x="456" y="481" width="1" height="39" fill="#4a7c73"/><rect x="455" y="494" width="3" height="26" fill="#1f8b79"/><rect x="459" y="486" width="1" height="30" fill="#4a7c73"/><rect x="458" y="492" width="3" height="4" fill="#1f8b79"/><rect x="463" y="478" width="1" height="34" fill="#85555f"/><rect x="462" y="492" width="3" height="10" fill="#c54455"/><rect x="467" y="463" width="1" height="42" fill="#4a7c73"/><rect x="466" y="486" width="3" height="17" fill="#1f8b79"/><rect x="471" y="483" width="1" height="47" fill="#85555f"/><rect x="470" y="486" width="3" height="44" fill="#c54455"/><rect x="475" y="519" width="1" height="38" fill="#85555f"/><rect x="474" y="530" width="3" height="15" fill="#c54455"/><rect x="479" y="521" width="1" height="32" fill="#85555f"/><rect x="478" y="544" width="3" height="3" fill="#c54455"/><rect x="482" y="514" width="1" height="50" fill="#4a7c73"/><rect x="481" y="528" width="3" height="26" fill="#1f8b79"/><rect x="486" y="497" width="1" height="51" fill="#85555f"/><rect x="485" y="516" width="3" height="18" fill="#c54455"/><rect x="490" y="527" width="1" height="77" fill="#85555f"/><rect x="489" y="534" width="3" height="66" fill="#c54455"/><rect x="494" y="566" width="1" height="62" fill="#4a7c73"/><rect x="493" y="576" width="3" height="28" fill="#1f8b79"/><rect x="498" y="537" width="1" height="73" fill="#85555f"/><rect x="497" y="580" width="3" height="10" fill="#c54455"/><rect x="501" y="575" width="1" height="35" fill="#85555f"/><rect x="500" y="590" width="3" height="4" fill="#c54455"/><rect x="505" y="562" width="1" height="34" fill="#4a7c73"/><rect x="504" y="565" width="3" height="27" fill="#1f8b79"/><rect x="509" y="518" width="1" height="57" fill="#4a7c73"/><rect x="508" y="543" width="3" height="20" fill="#1f8b79"/><rect x="513" y="541" width="1" height="49" fill="#4a7c73"/><rect x="512" y="545" width="3" height="4" fill="#1f8b79"/><rect x="517" y="464" width="1" height="93" fill="#4a7c73"/><rect x="516" y="467" width="3" height="90" fill="#1f8b79"/><rect x="520" y="441" width="1" height="42" fill="#85555f"/><rect x="519" y="470" width="3" height="3" fill="#c54455"/><rect x="524" y="447" width="1" height="45" fill="#4a7c73"/><rect x="523" y="460" width="3" height="13" fill="#1f8b79"/><rect x="528" y="428" width="1" height="51" fill="#4a7c73"/><rect x="527" y="429" width="3" height="34" fill="#1f8b79"/><rect x="532" y="418" width="1" height="30" fill="#4a7c73"/><rect x="531" y="431" width="3" height="2" fill="#1f8b79"/><rect x="536" y="390" width="1" height="46" fill="#4a7c73"/><rect x="535" y="420" width="3" height="14" fill="#1f8b79"/><rect x="539" y="405" width="1" height="17" fill="#4a7c73"/><rect x="538" y="414" width="3" height="6" fill="#1f8b79"/><rect x="543" y="395" width="1" height="23" fill="#4a7c73"/><rect x="542" y="397" width="3" height="18" fill="#1f8b79"/><rect x="547" y="395" width="1" height="46" fill="#85555f"/><rect x="546" y="397" width="3" height="13" fill="#c54455"/><rect x="551" y="364" width="1" height="46" fill="#4a7c73"/><rect x="550" y="371" width="3" height="39" fill="#1f8b79"/><rect x="555" y="360" width="1" height="24" fill="#4a7c73"/><rect x="554" y="366" width="3" height="6" fill="#1f8b79"/><rect x="559" y="351" width="1" height="19" fill="#85555f"/><rect x="558" y="363" width="3" height="2" fill="#c54455"/><rect x="562" y="331" width="1" height="49" fill="#85555f"/><rect x="561" y="364" width="3" height="16" fill="#c54455"/><rect x="566" y="377" width="1" height="27" fill="#85555f"/><rect x="565" y="381" width="3" height="22" fill="#c54455"/><rect x="570" y="376" width="1" height="39" fill="#4a7c73"/><rect x="569" y="398" width="3" height="4" fill="#1f8b79"/><rect x="574" y="396" width="1" height="34" fill="#85555f"/><rect x="573" y="400" width="3" height="29" fill="#c54455"/><rect x="578" y="399" width="1" height="32" fill="#4a7c73"/><rect x="577" y="410" width="3" height="19" fill="#1f8b79"/><rect x="581" y="397" width="1" height="35" fill="#4a7c73"/><rect x="580" y="409" width="3" height="5" fill="#1f8b79"/><rect x="585" y="385" width="1" height="49" fill="#85555f"/><rect x="584" y="401" width="3" height="4" fill="#c54455"/><rect x="589" y="351" width="1" height="60" fill="#4a7c73"/><rect x="588" y="385" width="3" height="15" fill="#1f8b79"/><rect x="593" y="352" width="1" height="36" fill="#4a7c73"/><rect x="592" y="369" width="3" height="15" fill="#1f8b79"/><rect x="597" y="343" width="1" height="37" fill="#4a7c73"/><rect x="596" y="358" width="3" height="12" fill="#1f8b79"/><rect x="600" y="322" width="1" height="48" fill="#4a7c73"/><rect x="599" y="339" width="3" height="20" fill="#1f8b79"/><rect x="604" y="337" width="1" height="19" fill="#85555f"/><rect x="603" y="340" width="3" height="1" fill="#c54455"/><rect x="608" y="318" width="1" height="26" fill="#4a7c73"/><rect x="607" y="334" width="3" height="6" fill="#1f8b79"/><rect x="612" y="320" width="1" height="28" fill="#85555f"/><rect x="611" y="333" width="3" height="2" fill="#c54455"/><rect x="616" y="327" width="1" height="41" fill="#85555f"/><rect x="615" y="333" width="3" height="35" fill="#c54455"/><rect x="619" y="356" width="1" height="29" fill="#85555f"/><rect x="618" y="365" width="3" height="12" fill="#c54455"/><rect x="623" y="371" width="1" height="26" fill="#85555f"/><rect x="622" y="376" width="3" height="18" fill="#c54455"/><rect x="627" y="381" width="1" height="29" fill="#85555f"/><rect x="626" y="394" width="3" height="3" fill="#c54455"/><rect x="631" y="380" width="1" height="24" fill="#4a7c73"/><rect x="630" y="388" width="3" height="8" fill="#1f8b79"/><rect x="635" y="343" width="1" height="47" fill="#4a7c73"/><rect x="634" y="349" width="3" height="40" fill="#1f8b79"/><rect x="639" y="335" width="1" height="33" fill="#85555f"/><rect x="638" y="349" width="3" height="11" fill="#c54455"/><rect x="642" y="342" width="1" height="28" fill="#4a7c73"/><rect x="641" y="355" width="3" height="2" fill="#1f8b79"/><rect x="646" y="343" width="1" height="28" fill="#4a7c73"/><rect x="645" y="344" width="3" height="12" fill="#1f8b79"/><rect x="650" y="289" width="1" height="60" fill="#4a7c73"/><rect x="649" y="293" width="3" height="51" fill="#1f8b79"/><rect x="654" y="282" width="1" height="34" fill="#85555f"/><rect x="653" y="291" width="3" height="23" fill="#c54455"/><rect x="658" y="308" width="1" height="41" fill="#85555f"/><rect x="657" y="311" width="3" height="25" fill="#c54455"/><rect x="661" y="328" width="1" height="27" fill="#85555f"/><rect x="660" y="334" width="3" height="3" fill="#c54455"/><rect x="665" y="324" width="1" height="28" fill="#85555f"/><rect x="664" y="336" width="3" height="13" fill="#c54455"/><rect x="669" y="345" width="1" height="23" fill="#85555f"/><rect x="668" y="346" width="3" height="19" fill="#c54455"/><rect x="673" y="351" width="1" height="33" fill="#85555f"/><rect x="672" y="364" width="3" height="16" fill="#c54455"/><rect x="677" y="348" width="1" height="36" fill="#85555f"/><rect x="676" y="378" width="3" height="5" fill="#c54455"/><rect x="680" y="376" width="1" height="24" fill="#85555f"/><rect x="679" y="381" width="3" height="18" fill="#c54455"/><rect x="684" y="384" width="1" height="26" fill="#85555f"/><rect x="683" y="394" width="3" height="12" fill="#c54455"/><rect x="688" y="390" width="1" height="24" fill="#85555f"/><rect x="687" y="405" width="3" height="4" fill="#c54455"/><rect x="692" y="406" width="1" height="33" fill="#85555f"/><rect x="691" y="408" width="3" height="14" fill="#c54455"/><rect x="696" y="417" width="1" height="29" fill="#4a7c73"/><rect x="695" y="420" width="3" height="4" fill="#1f8b79"/><rect x="699" y="409" width="1" height="29" fill="#85555f"/><rect x="698" y="427" width="3" height="10" fill="#c54455"/><rect x="703" y="414" width="1" height="21" fill="#4a7c73"/><rect x="702" y="419" width="3" height="16" fill="#1f8b79"/><rect x="707" y="398" width="1" height="35" fill="#85555f"/><rect x="706" y="418" width="3" height="8" fill="#c54455"/><rect x="711" y="388" width="1" height="46" fill="#4a7c73"/><rect x="710" y="392" width="3" height="34" fill="#1f8b79"/><rect x="715" y="386" width="1" height="20" fill="#85555f"/><rect x="714" y="393" width="3" height="8" fill="#c54455"/><rect x="719" y="356" width="1" height="48" fill="#4a7c73"/><rect x="718" y="356" width="3" height="46" fill="#1f8b79"/><rect x="722" y="344" width="1" height="22" fill="#4a7c73"/><rect x="721" y="351" width="3" height="6" fill="#1f8b79"/><rect x="726" y="334" width="1" height="38" fill="#85555f"/><rect x="725" y="349" width="3" height="14" fill="#c54455"/><rect x="730" y="358" width="1" height="34" fill="#85555f"/><rect x="729" y="362" width="3" height="24" fill="#c54455"/><rect x="734" y="336" width="1" height="52" fill="#4a7c73"/><rect x="733" y="359" width="3" height="27" fill="#1f8b79"/><rect x="738" y="329" width="1" height="30" fill="#4a7c73"/><rect x="737" y="334" width="3" height="25" fill="#1f8b79"/><rect x="741" y="310" width="1" height="26" fill="#4a7c73"/><rect x="740" y="330" width="3" height="5" fill="#1f8b79"/><rect x="745" y="330" width="1" height="32" fill="#85555f"/><rect x="744" y="330" width="3" height="19" fill="#c54455"/><rect x="749" y="338" width="1" height="17" fill="#4a7c73"/><rect x="748" y="348" width="3" height="2" fill="#1f8b79"/><rect x="753" y="344" width="1" height="24" fill="#85555f"/><rect x="752" y="347" width="3" height="12" fill="#c54455"/><rect x="757" y="351" width="1" height="24" fill="#85555f"/><rect x="756" y="359" width="3" height="9" fill="#c54455"/><rect x="760" y="358" width="1" height="23" fill="#85555f"/><rect x="759" y="369" width="3" height="11" fill="#c54455"/><rect x="764" y="378" width="1" height="15" fill="#4a7c73"/><rect x="763" y="380" width="3" height="2" fill="#1f8b79"/><rect x="768" y="376" width="1" height="22" fill="#85555f"/><rect x="767" y="382" width="3" height="1" fill="#c54455"/><rect x="772" y="360" width="1" height="25" fill="#4a7c73"/><rect x="771" y="374" width="3" height="10" fill="#1f8b79"/><rect x="776" y="364" width="1" height="13" fill="#4a7c73"/><rect x="775" y="370" width="3" height="2" fill="#1f8b79"/><rect x="779" y="341" width="1" height="30" fill="#4a7c73"/><rect x="778" y="351" width="3" height="20" fill="#1f8b79"/><rect x="783" y="345" width="1" height="18" fill="#85555f"/><rect x="782" y="349" width="3" height="12" fill="#c54455"/><rect x="787" y="349" width="1" height="27" fill="#85555f"/><rect x="786" y="359" width="3" height="17" fill="#c54455"/><rect x="791" y="364" width="1" height="20" fill="#85555f"/><rect x="790" y="375" width="3" height="5" fill="#c54455"/><rect x="795" y="362" width="1" height="30" fill="#4a7c73"/><rect x="794" y="370" width="3" height="10" fill="#1f8b79"/><rect x="799" y="360" width="1" height="52" fill="#85555f"/><rect x="798" y="370" width="3" height="40" fill="#c54455"/><rect x="802" y="399" width="1" height="18" fill="#4a7c73"/><rect x="801" y="407" width="3" height="3" fill="#1f8b79"/><rect x="806" y="387" width="1" height="25" fill="#4a7c73"/><rect x="805" y="399" width="3" height="8" fill="#1f8b79"/><rect x="810" y="375" width="1" height="32" fill="#4a7c73"/><rect x="809" y="386" width="3" height="14" fill="#1f8b79"/><rect x="814" y="379" width="1" height="13" fill="#4a7c73"/><rect x="813" y="384" width="3" height="3" fill="#1f8b79"/><rect x="818" y="358" width="1" height="26" fill="#4a7c73"/><rect x="817" y="364" width="3" height="20" fill="#1f8b79"/><rect x="821" y="360" width="1" height="16" fill="#85555f"/><rect x="820" y="364" width="3" height="5" fill="#c54455"/><rect x="825" y="360" width="1" height="20" fill="#4a7c73"/><rect x="824" y="368" width="3" height="1" fill="#1f8b79"/><rect x="829" y="354" width="1" height="25" fill="#85555f"/><rect x="828" y="368" width="3" height="10" fill="#c54455"/><rect x="833" y="367" width="1" height="37" fill="#85555f"/><rect x="832" y="382" width="3" height="16" fill="#c54455"/><rect x="837" y="385" width="1" height="18" fill="#85555f"/><rect x="836" y="397" width="3" height="2" fill="#c54455"/><rect x="840" y="388" width="1" height="16" fill="#4a7c73"/><rect x="839" y="395" width="3" height="7" fill="#1f8b79"/><rect x="844" y="369" width="1" height="26" fill="#4a7c73"/><rect x="843" y="370" width="3" height="20" fill="#1f8b79"/><rect x="848" y="355" width="1" height="23" fill="#4a7c73"/><rect x="847" y="356" width="3" height="22" fill="#1f8b79"/><rect x="852" y="348" width="1" height="15" fill="#85555f"/><rect x="851" y="361" width="3" height="1" fill="#c54455"/><rect x="856" y="357" width="1" height="15" fill="#85555f"/><rect x="855" y="360" width="3" height="7" fill="#c54455"/><rect x="859" y="352" width="1" height="30" fill="#4a7c73"/><rect x="858" y="356" width="3" height="11" fill="#1f8b79"/><rect x="863" y="336" width="1" height="25" fill="#85555f"/><rect x="862" y="352" width="3" height="3" fill="#c54455"/><rect x="867" y="328" width="1" height="28" fill="#4a7c73"/><rect x="866" y="332" width="3" height="24" fill="#1f8b79"/><rect x="871" y="297" width="1" height="36" fill="#4a7c73"/><rect x="870" y="299" width="3" height="33" fill="#1f8b79"/><rect x="875" y="297" width="1" height="32" fill="#85555f"/><rect x="874" y="299" width="3" height="30" fill="#c54455"/><rect x="879" y="306" width="1" height="26" fill="#4a7c73"/><rect x="878" y="321" width="3" height="8" fill="#1f8b79"/><rect x="882" y="317" width="1" height="20" fill="#85555f"/><rect x="881" y="321" width="3" height="3" fill="#c54455"/><rect x="886" y="300" width="1" height="24" fill="#4a7c73"/><rect x="885" y="306" width="3" height="17" fill="#1f8b79"/><rect x="890" y="295" width="1" height="26" fill="#4a7c73"/><rect x="889" y="306" width="3" height="1" fill="#1f8b79"/><rect x="894" y="296" width="1" height="51" fill="#85555f"/><rect x="893" y="308" width="3" height="35" fill="#c54455"/><rect x="898" y="338" width="1" height="19" fill="#85555f"/><rect x="897" y="344" width="3" height="7" fill="#c54455"/><rect x="901" y="350" width="1" height="25" fill="#85555f"/><rect x="900" y="351" width="3" height="14" fill="#c54455"/><rect x="905" y="363" width="1" height="22" fill="#85555f"/><rect x="904" y="365" width="3" height="15" fill="#c54455"/><rect x="909" y="356" width="1" height="28" fill="#4a7c73"/><rect x="908" y="371" width="3" height="9" fill="#1f8b79"/><rect x="913" y="350" width="1" height="51" fill="#85555f"/><rect x="912" y="362" width="3" height="33" fill="#c54455"/><rect x="917" y="392" width="1" height="46" fill="#85555f"/><rect x="916" y="396" width="3" height="34" fill="#c54455"/><rect x="920" y="415" width="1" height="56" fill="#85555f"/><rect x="919" y="432" width="3" height="23" fill="#c54455"/><rect x="924" y="418" width="1" height="34" fill="#4a7c73"/><rect x="923" y="422" width="3" height="20" fill="#1f8b79"/><rect x="928" y="411" width="1" height="34" fill="#4a7c73"/><rect x="927" y="424" width="3" height="1" fill="#1f8b79"/><rect x="932" y="418" width="1" height="28" fill="#85555f"/><rect x="931" y="426" width="3" height="12" fill="#c54455"/><rect x="936" y="430" width="1" height="38" fill="#85555f"/><rect x="935" y="440" width="3" height="12" fill="#c54455"/><rect x="939" y="448" width="1" height="12" fill="#85555f"/><rect x="938" y="452" width="3" height="2" fill="#c54455"/><rect x="943" y="445" width="1" height="47" fill="#85555f"/><rect x="942" y="452" width="3" height="24" fill="#c54455"/><rect x="947" y="450" width="1" height="45" fill="#85555f"/><rect x="946" y="477" width="3" height="13" fill="#c54455"/><rect x="951" y="466" width="1" height="36" fill="#4a7c73"/><rect x="950" y="484" width="3" height="7" fill="#1f8b79"/><rect x="955" y="433" width="1" height="51" fill="#4a7c73"/><rect x="954" y="439" width="3" height="43" fill="#1f8b79"/><rect x="959" y="431" width="1" height="36" fill="#85555f"/><rect x="958" y="442" width="3" height="25" fill="#c54455"/><rect x="962" y="449" width="1" height="46" fill="#4a7c73"/><rect x="961" y="472" width="3" height="19" fill="#1f8b79"/><rect x="966" y="434" width="1" height="47" fill="#4a7c73"/><rect x="965" y="440" width="3" height="41" fill="#1f8b79"/><rect x="970" y="436" width="1" height="21" fill="#85555f"/><rect x="969" y="440" width="3" height="7" fill="#c54455"/><rect x="974" y="431" width="1" height="34" fill="#85555f"/><rect x="973" y="443" width="3" height="20" fill="#c54455"/><rect x="978" y="360" width="1" height="99" fill="#4a7c73"/><rect x="977" y="371" width="3" height="87" fill="#1f8b79"/><rect x="981" y="348" width="1" height="28" fill="#4a7c73"/><rect x="980" y="362" width="3" height="10" fill="#1f8b79"/><rect x="985" y="347" width="1" height="31" fill="#85555f"/><rect x="984" y="362" width="3" height="14" fill="#c54455"/><rect x="989" y="366" width="1" height="25" fill="#4a7c73"/><rect x="988" y="373" width="3" height="2" fill="#1f8b79"/><rect x="993" y="309" width="1" height="73" fill="#4a7c73"/><rect x="992" y="345" width="3" height="29" fill="#1f8b79"/><rect x="997" y="243" width="1" height="119" fill="#4a7c73"/><rect x="996" y="266" width="3" height="94" fill="#1f8b79"/><rect x="1000" y="253" width="1" height="31" fill="#4a7c73"/><rect x="999" y="260" width="3" height="14" fill="#1f8b79"/><rect x="1004" y="223" width="1" height="53" fill="#85555f"/><rect x="1003" y="259" width="3" height="7" fill="#c54455"/><rect x="1008" y="254" width="1" height="30" fill="#85555f"/><rect x="1007" y="266" width="3" height="12" fill="#c54455"/><rect x="1012" y="261" width="1" height="38" fill="#85555f"/><rect x="1011" y="277" width="3" height="11" fill="#c54455"/><rect x="1016" y="284" width="1" height="40" fill="#85555f"/><rect x="1015" y="301" width="3" height="5" fill="#c54455"/><rect x="1019" y="263" width="1" height="41" fill="#4a7c73"/><rect x="1018" y="266" width="3" height="36" fill="#1f8b79"/><rect x="1023" y="254" width="1" height="42" fill="#85555f"/><rect x="1022" y="265" width="3" height="4" fill="#c54455"/><rect x="1027" y="240" width="1" height="29" fill="#4a7c73"/><rect x="1026" y="259" width="3" height="9" fill="#1f8b79"/><rect x="1031" y="212" width="1" height="50" fill="#4a7c73"/><rect x="1030" y="228" width="3" height="32" fill="#1f8b79"/><rect x="1035" y="215" width="1" height="33" fill="#85555f"/><rect x="1039" y="186" width="1" height="62" fill="#4a7c73"/><rect x="1038" y="195" width="3" height="53" fill="#1f8b79"/><rect x="1042" y="172" width="1" height="23" fill="#4a7c73"/><rect x="1041" y="184" width="3" height="9" fill="#1f8b79"/><rect x="1046" y="180" width="1" height="24" fill="#85555f"/><rect x="1045" y="182" width="3" height="19" fill="#c54455"/><rect x="1050" y="195" width="1" height="32" fill="#85555f"/><rect x="1049" y="206" width="3" height="8" fill="#c54455"/><rect x="1054" y="180" width="1" height="34" fill="#4a7c73"/><rect x="1053" y="190" width="3" height="23" fill="#1f8b79"/><rect x="1058" y="184" width="1" height="75" fill="#85555f"/><rect x="1057" y="185" width="3" height="37" fill="#c54455"/><rect x="1061" y="198" width="1" height="34" fill="#4a7c73"/><rect x="1060" y="210" width="3" height="11" fill="#1f8b79"/><rect x="1065" y="192" width="1" height="28" fill="#4a7c73"/><rect x="1064" y="197" width="3" height="13" fill="#1f8b79"/><rect x="1069" y="192" width="1" height="29" fill="#4a7c73"/><rect x="1068" y="195" width="3" height="1" fill="#1f8b79"/></g>
<circle cx="1042.5" cy="178" r="8.6" fill="rgba(242,54,69,0.22)" stroke="#cf4452" stroke-width="1.5" shape-rendering="auto"/>
<circle cx="1054.8" cy="177.2" r="10.4" fill="rgba(242,54,69,0.22)" stroke="#cf4452" stroke-width="1.5" shape-rendering="auto"/>
</svg>
<div class="lg" style="left:4px;top:69px;width:81px;height:24px"></div>
<div class="lg" style="left:4px;top:93px;width:137px;height:25px"></div>
<div class="lg" style="left:4px;top:118px;width:141px;height:24px"></div>

<svg style="position:absolute;left:5px;top:5px" width="24" height="24" viewBox="0 0 24 24">
<defs><clipPath id="usc"><circle cx="14.6" cy="7.8" r="5.9"/></clipPath></defs>
<g clip-path="url(#usc)">
<rect x="8" y="1" width="13" height="14" fill="#f6f1f1"/>
<rect x="8" y="2.2" width="13" height="1.7" fill="#b9575c"/>
<rect x="8" y="5.4" width="13" height="1.7" fill="#b9575c"/>
<rect x="8" y="8.6" width="13" height="1.7" fill="#b9575c"/>
<rect x="8" y="11.6" width="13" height="2.2" fill="#b9575c"/>
<rect x="8" y="1" width="7.2" height="7.6" fill="#4068ae"/>
<g fill="#cfdcf2"><rect x="10.6" y="3" width="0.9" height="0.9"/><rect x="12.6" y="3" width="0.9" height="0.9"/><rect x="10.6" y="5" width="0.9" height="0.9"/><rect x="12.6" y="5" width="0.9" height="0.9"/><rect x="10.6" y="7" width="0.9" height="0.9"/><rect x="12.6" y="7" width="0.9" height="0.9"/></g>
</g>
<circle cx="8" cy="13.9" r="6.9" fill="#fff"/>
<circle cx="8" cy="13.9" r="5.9" fill="#235fae"/>
<g fill="#9cc6f3"><circle cx="8" cy="10.5" r="0.6"/><circle cx="8" cy="17.3" r="0.6"/><circle cx="4.6" cy="13.9" r="0.6"/><circle cx="11.4" cy="13.9" r="0.6"/><circle cx="5.6" cy="11.5" r="0.6"/><circle cx="10.4" cy="11.5" r="0.6"/><circle cx="5.6" cy="16.3" r="0.6"/><circle cx="10.4" cy="16.3" r="0.6"/></g>
</svg>

<div class="box" style="left:256px;top:7px;width:20px;height:18px;background:#d6efea;border-radius:9px 0 0 9px"></div>
<div class="box" style="left:276px;top:7px;width:20px;height:18px;background:#fadbe7;border-radius:0 9px 9px 0"></div>
<div class="box" style="left:263px;top:12px;width:8px;height:8px;background:#12987f;border-radius:50%"></div>
<div class="t b" style="left:281px;top:16.4px;font-size:14px;color:#9c2f6c;font-weight:700">≈</div>
<div class="box" style="left:6px;top:32px;width:67px;height:34px;border:1px solid #d27c85;border-radius:6px;background:#fff"></div>
<div class="box" style="left:104px;top:32px;width:67px;height:34px;border:1px solid #5573b3;border-radius:6px;background:#fff"></div>
<div class="box" style="left:6px;top:145px;width:29px;height:21px;border:1px solid #dadadc;border-radius:3px;background:rgba(255,255,255,0.92)"></div>
<svg style="position:absolute;left:13px;top:150px" width="14" height="10" viewBox="0 0 14 10"><path d="M3.5 7.3 L7.3 3.6 L11.1 7.3" fill="none" stroke="#1c1e26" stroke-width="1.3" stroke-linecap="round" stroke-linejoin="round"/></svg>
<div class="t g" id="t0" style="left:28.99px;top:18.0px;font-size:16px;color:#131722;transform:translateY(-50%) scale(0.950,1);">Euro</div>
<div class="t g" id="t1" style="left:68.68px;top:18.0px;font-size:16px;color:#131722;">/</div>
<div class="t g" id="t2" style="left:79.22px;top:18.0px;font-size:16px;color:#131722;transform:translateY(-50%) scale(0.946,1);">U.S.</div>
<div class="t g" id="t3" style="left:113.24px;top:18.0px;font-size:16px;color:#131722;transform:translateY(-50%) scale(0.991,1);">Dollar</div>
<div class="t g" id="t4" style="left:159.31px;top:18.0px;font-size:16px;color:#131722;">·</div>
<div class="t g" id="t5" style="left:167.71px;top:18.0px;font-size:16px;color:#131722;transform:translateY(-50%) scale(0.907,1);">1W</div>
<div class="t g" id="t6" style="left:193.44px;top:18.0px;font-size:16px;color:#131722;">·</div>
<div class="t g" id="t7" style="left:201.91px;top:18.0px;font-size:16px;color:#131722;transform:translateY(-50%) scale(0.867,1);">FXCM</div>
<div class="t" id="t8" style="left:310.80px;top:16.4px;font-size:13px;color:#131722;">O</div>
<div class="t" id="t9" style="left:321.38px;top:16.4px;font-size:13px;color:#1c9682;transform:translateY(-50%) scale(0.978,1);">1.17096</div>
<div class="t" id="t10" style="left:372.81px;top:16.4px;font-size:13px;color:#131722;">H</div>
<div class="t" id="t11" style="left:382.16px;top:16.4px;font-size:13px;color:#1c9682;transform:translateY(-50%) scale(0.968,1);">1.17321</div>
<div class="t" id="t12" style="left:434.11px;top:16.4px;font-size:13px;color:#131722;">L</div>
<div class="t" id="t13" style="left:440.83px;top:16.4px;font-size:13px;color:#1c9682;transform:translateY(-50%) scale(0.994,1);">1.15828</div>
<div class="t" id="t14" style="left:492.57px;top:16.4px;font-size:13px;color:#131722;">C</div>
<div class="t" id="t15" style="left:501.67px;top:16.4px;font-size:13px;color:#1c9682;transform:translateY(-50%) scale(0.986,1);">1.17158</div>
<div class="t" id="t16" style="left:553.59px;top:16.4px;font-size:13px;color:#1c9682;transform:translateY(-50%) scale(0.957,1);">+0.00124</div>
<div class="t" id="t17" style="left:611.12px;top:16.4px;font-size:13px;color:#1c9682;transform:translateY(-50%) scale(0.938,1);">(+0.11%)</div>
<div class="t" id="t18" style="left:16.96px;top:40.6px;font-size:13px;color:#c4525f;transform:translateY(-50%) scale(1.022,1);">1.1715</div>
<div class="t" id="t19" style="left:56.93px;top:39.7px;font-size:9.5px;color:#c4525f;">9</div>
<div class="t" id="t20" style="left:27.65px;top:56.0px;font-size:11px;color:#c4525f;transform:translateY(-50%) scale(0.907,1);">SELL</div>
<div class="t" id="t21" style="left:81.59px;top:48.6px;font-size:10.5px;color:#131722;transform:translateY(-50%) scale(0.894,1);">0.1</div>
<div class="t" id="t22" style="left:114.41px;top:40.6px;font-size:13px;color:#3f62b5;transform:translateY(-50%) scale(1.025,1);">1.1716</div>
<div class="t" id="t23" style="left:155.20px;top:39.7px;font-size:9.5px;color:#3f62b5;">0</div>
<div class="t" id="t24" style="left:127.14px;top:56.0px;font-size:11px;color:#3f62b5;transform:translateY(-50%) scale(0.877,1);">BUY</div>
<div class="t" id="t25" style="left:7.07px;top:81.8px;font-size:13px;color:#131722;">Vol</div>
<div class="t" id="t26" style="left:32.24px;top:81.8px;font-size:13px;color:#3aa394;transform:translateY(-50%) scale(0.947,1);">904.46 K</div>
<div class="t" id="t27" style="left:7.25px;top:106.0px;font-size:13px;color:#131722;transform:translateY(-50%) scale(0.849,1);">EMA</div>
<div class="t" id="t28" style="left:33.73px;top:106.0px;font-size:13px;color:#595a61;transform:translateY(-50%) scale(0.985,1);">50 close</div>
<div class="t" id="t29" style="left:89.16px;top:106.0px;font-size:13px;color:#c45a64;transform:translateY(-50%) scale(1.008,1);">1.11614</div>
<div class="t" id="t30" style="left:7.25px;top:130.0px;font-size:13px;color:#131722;transform:translateY(-50%) scale(0.849,1);">EMA</div>
<div class="t" id="t31" style="left:33.65px;top:130.0px;font-size:13px;color:#595a61;transform:translateY(-50%) scale(0.973,1);">200 close</div>
<div class="t" id="t32" style="left:95.62px;top:130.0px;font-size:13px;color:#3b3a9e;transform:translateY(-50%) scale(0.980,1);">1.09958</div>
<div class="t" id="t33" style="left:1221.04px;top:19.1px;font-size:12px;color:#b1b1b2;transform:translateY(-50%) scale(0.969,1);">1.26000</div>
<div class="t" id="t34" style="left:1221.04px;top:59.1px;font-size:12px;color:#b1b1b2;transform:translateY(-50%) scale(0.969,1);">1.24000</div>
<div class="t" id="t35" style="left:1221.04px;top:99.2px;font-size:12px;color:#b1b1b2;transform:translateY(-50%) scale(0.969,1);">1.22000</div>
<div class="t" id="t36" style="left:1221.04px;top:139.2px;font-size:12px;color:#b1b1b2;transform:translateY(-50%) scale(0.969,1);">1.20000</div>
<div class="t" id="t37" style="left:1221.04px;top:179.2px;font-size:12px;color:#b1b1b2;transform:translateY(-50%) scale(0.969,1);">1.18000</div>
<div class="t" id="t38" style="left:1221.04px;top:258.1px;font-size:12px;color:#b1b1b2;transform:translateY(-50%) scale(0.969,1);">1.14000</div>
<div class="t" id="t39" style="left:1221.04px;top:378.1px;font-size:12px;color:#b1b1b2;transform:translateY(-50%) scale(0.969,1);">1.08000</div>
<div class="t" id="t40" style="left:1221.04px;top:418.1px;font-size:12px;color:#b1b1b2;transform:translateY(-50%) scale(0.969,1);">1.06000</div>
<div class="t" id="t41" style="left:1221.04px;top:458.1px;font-size:12px;color:#b1b1b2;transform:translateY(-50%) scale(0.969,1);">1.04000</div>
<div class="t" id="t42" style="left:1221.04px;top:498.1px;font-size:12px;color:#b1b1b2;transform:translateY(-50%) scale(0.969,1);">1.02000</div>
<div class="t" id="t43" style="left:1221.04px;top:537.1px;font-size:12px;color:#b1b1b2;transform:translateY(-50%) scale(0.969,1);">1.00000</div>
<div class="t" id="t44" style="left:1221.17px;top:577.1px;font-size:12px;color:#b1b1b2;transform:translateY(-50%) scale(0.957,1);">0.98000</div>
<div class="t" id="t45" style="left:1221.25px;top:617.1px;font-size:12px;color:#b1b1b2;transform:translateY(-50%) scale(0.958,1);">0.96000</div>
<div class="t" id="t46" style="left:1221.82px;top:657.1px;font-size:12px;color:#b1b1b2;transform:translateY(-50%) scale(0.956,1);">0.94000</div>
<div class="t" id="t47" style="left:44.21px;top:699.0px;font-size:12px;color:#b1b1b2;transform:translateY(-50%) scale(1.032,1);">Jul</div>
<div class="t" id="t48" style="left:241.75px;top:699.0px;font-size:12px;color:#b1b1b2;transform:translateY(-50%) scale(1.032,1);">Jul</div>
<div class="t" id="t49" style="left:440.29px;top:699.0px;font-size:12px;color:#b1b1b2;transform:translateY(-50%) scale(1.030,1);">Jul</div>
<div class="t" id="t50" style="left:638.29px;top:699.0px;font-size:12px;color:#b1b1b2;transform:translateY(-50%) scale(1.030,1);">Jul</div>
<div class="t" id="t51" style="left:835.75px;top:699.0px;font-size:12px;color:#b1b1b2;transform:translateY(-50%) scale(1.034,1);">Jul</div>
<div class="t" id="t52" style="left:1038.67px;top:699.0px;font-size:12px;color:#b1b1b2;transform:translateY(-50%) scale(1.035,1);">Jul</div>
<div class="t b" id="t53" style="left:137.36px;top:699.0px;font-size:12px;color:#b1b1b2;font-weight:700;transform:translateY(-50%) scale(1.027,1);">2021</div>
<div class="t b" id="t54" style="left:335.52px;top:699.0px;font-size:12px;color:#b1b1b2;font-weight:700;transform:translateY(-50%) scale(1.018,1);">2022</div>
<div class="t b" id="t55" style="left:533.52px;top:699.0px;font-size:12px;color:#b1b1b2;font-weight:700;transform:translateY(-50%) scale(1.019,1);">2023</div>
<div class="t b" id="t56" style="left:731.86px;top:699.0px;font-size:12px;color:#b1b1b2;font-weight:700;transform:translateY(-50%) scale(1.020,1);">2024</div>
<div class="t b" id="t57" style="left:933.45px;top:699.0px;font-size:12px;color:#b1b1b2;font-weight:700;transform:translateY(-50%) scale(1.014,1);">2025</div>
<div class="t b" id="t58" style="left:1131.86px;top:699.0px;font-size:12px;color:#b1b1b2;font-weight:700;transform:translateY(-50%) scale(1.016,1);">2026</div>
<div class="box" style="left:1213px;top:150px;width:56px;height:17px;background:#2b5ff0;border-radius:2px"></div>
<div class="box" style="left:1213px;top:187px;width:60px;height:31px;background:#0f9a80;border-radius:2px"></div>
<div class="box" style="left:1213px;top:218px;width:56px;height:17px;background:#2b5ff0;border-radius:2px"></div>
<div class="box" style="left:1213px;top:290px;width:56px;height:17px;background:#2b5ff0;border-radius:2px"></div>
<div class="box" style="left:1213px;top:307px;width:56px;height:17px;background:#ea3943;border-radius:2px"></div>
<div class="box" style="left:1213px;top:330px;width:56px;height:17px;background:#2424dc;border-radius:2px"></div>
<div class="box" style="left:1213px;top:639px;width:58px;height:17px;background:#27a397;border-radius:2px"></div>
<div class="t w" id="t59" style="left:1221.24px;top:158.6px;font-size:12px;color:#fff;transform:translateY(-50%) scale(0.975,1);">1.19000</div>
<div class="t w" id="t60" style="left:1221.31px;top:196.3px;font-size:12px;color:#fff;transform:translateY(-50%) scale(0.979,1);">1.17158</div>
<div class="t w" id="t61" style="left:1220.67px;top:209.9px;font-size:12px;color:#fff;">05:02:22</div>
<div class="t w" id="t62" style="left:1221.24px;top:226.6px;font-size:12px;color:#fff;transform:translateY(-50%) scale(0.975,1);">1.16000</div>
<div class="t w" id="t63" style="left:1221.24px;top:298.6px;font-size:12px;color:#fff;transform:translateY(-50%) scale(0.975,1);">1.12000</div>
<div class="t w" id="t64" style="left:1219.96px;top:315.6px;font-size:12px;color:#fff;transform:translateY(-50%) scale(1.019,1);">1.11614</div>
<div class="t w" id="t65" style="left:1221.31px;top:338.8px;font-size:12px;color:#fff;transform:translateY(-50%) scale(0.978,1);">1.09958</div>
<div class="t w" id="t66" style="left:1220.44px;top:648.0px;font-size:12px;color:#fff;transform:translateY(-50%) scale(0.943,1);">904.46 K</div>

<svg style="position:absolute;left:0;top:0" width="1280" height="714" viewBox="0 0 1280 714">
<!-- TradingView logo -->
<g stroke="#fff" stroke-width="2.4" stroke-linejoin="round" fill="#fff">
<path d="M10 656.5 H22.5 V670.5 H16.5 V662.5 H10 Z"/>
<circle cx="26.8" cy="659.4" r="3"/>
<path d="M32.8 656.5 H39.8 L33.8 670.5 H26.8 Z"/>
</g>
<g fill="#0c0e13">
<path d="M10 656.5 H22.5 V670.5 H16.5 V662.5 H10 Z"/>
<circle cx="26.8" cy="659.4" r="3"/>
<path d="M32.8 656.5 H39.8 L33.8 670.5 H26.8 Z"/>
</g>
<text x="46.8" y="670.6" font-family="Liberation Sans, sans-serif" font-weight="700" font-size="20" textLength="121" lengthAdjust="spacingAndGlyphs" fill="#fff" stroke="#fff" stroke-width="3" stroke-linejoin="round">TradingView</text>
<text x="46.8" y="670.6" font-family="Liberation Sans, sans-serif" font-weight="700" font-size="20" textLength="121" lengthAdjust="spacingAndGlyphs" fill="#0c0e13" stroke="#0c0e13" stroke-width="0.6" stroke-linejoin="round">TradingView</text>
<!-- event icons -->
<g>
<circle cx="1069.6" cy="622.3" r="9.9" fill="rgba(255,255,255,0.85)" stroke="#8640a8" stroke-width="1.4"/>
<path d="M1071.3 617.6 L1066.3 623.2 H1069.6 L1068.2 627.2 L1073.2 621.6 H1069.9 Z" fill="#8640a8"/>
<circle cx="1076.4" cy="615.4" r="2.5" fill="#d9444e" stroke="#fff" stroke-width="0.7"/>
<circle cx="1073.6" cy="647" r="9.6" fill="#fff" stroke="#c9444f" stroke-width="1"/>
<circle cx="1071.4" cy="647" r="9.9" fill="#fff" stroke="#c9444f" stroke-width="1"/>
<circle cx="1069.2" cy="647" r="10" fill="#fff" stroke="#c9444f" stroke-width="1.3"/>
<circle cx="1069.2" cy="647" r="7.6" fill="#2560b0"/>
<g fill="#b9d3f3"><circle cx="1069.2" cy="642.4" r="0.75"/><circle cx="1069.2" cy="651.6" r="0.75"/><circle cx="1064.6" cy="647" r="0.75"/><circle cx="1073.8" cy="647" r="0.75"/><circle cx="1066" cy="643.8" r="0.75"/><circle cx="1072.4" cy="643.8" r="0.75"/><circle cx="1066" cy="650.2" r="0.75"/><circle cx="1072.4" cy="650.2" r="0.75"/></g>
<circle cx="1073.6" cy="672" r="9.6" fill="#fff" stroke="#c9444f" stroke-width="1"/>
<circle cx="1071.4" cy="672" r="9.9" fill="#fff" stroke="#c9444f" stroke-width="1"/>
<circle cx="1069.2" cy="672" r="10" fill="#fff" stroke="#c9444f" stroke-width="1.3"/>
<clipPath id="usc2"><circle cx="1069.2" cy="672" r="7.6"/></clipPath>
<g clip-path="url(#usc2)">
<rect x="1060" y="663" width="19" height="18" fill="#f6eeee"/>
<rect x="1060" y="664.6" width="19" height="1.8" fill="#d7595c"/>
<rect x="1060" y="668.4" width="19" height="1.8" fill="#d7595c"/>
<rect x="1060" y="673.2" width="19" height="2.4" fill="#d7595c"/>
<rect x="1060" y="677.6" width="19" height="2.6" fill="#d7595c"/>
<rect x="1060" y="663" width="9.6" height="9.6" fill="#4a74bd"/>
<g fill="#dfe8f7"><rect x="1063" y="665" width="1" height="1"/><rect x="1065.5" y="665" width="1" height="1"/><rect x="1068" y="665" width="1" height="1"/><rect x="1063" y="667.5" width="1" height="1"/><rect x="1065.5" y="667.5" width="1" height="1"/><rect x="1068" y="667.5" width="1" height="1"/><rect x="1063" y="670" width="1" height="1"/><rect x="1065.5" y="670" width="1" height="1"/><rect x="1068" y="670" width="1" height="1"/></g>
</g>
</g>
<!-- settings hex -->
<path d="M1238.5 699.5 L1242 693.5 H1249.3 L1252.8 699.5 L1249.3 705.5 H1242 Z" fill="none" stroke="#111" stroke-width="1.15" stroke-linejoin="round"/>
<circle cx="1245.65" cy="699.5" r="2.1" fill="none" stroke="#111" stroke-width="1.1"/>
<!-- rounded top-right corner -->
<path d="M1275 0 H1280 V5 H1278 Q1278 1.5 1275 0 Z" fill="#2b2b2b"/>
</svg>

<div class="frame-r2"></div><div class="frame-b2"></div><div class="frame-r"></div><div class="frame-b"></div>
</body>
</html>
